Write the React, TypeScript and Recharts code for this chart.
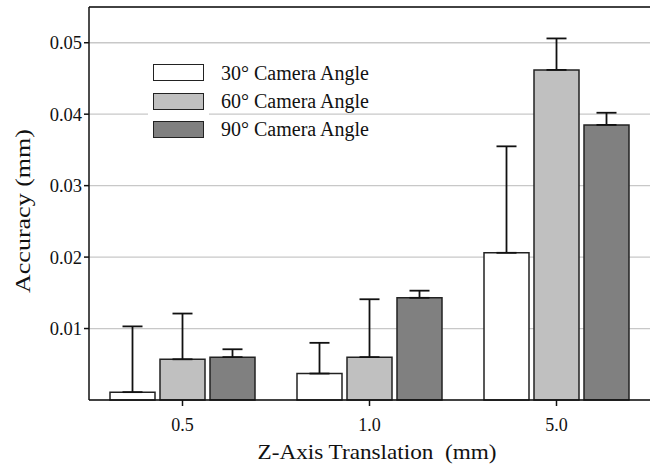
import React from 'react'
import { BarChart, Bar, XAxis, YAxis, CartesianGrid, ErrorBar, ReferenceLine } from 'recharts'

const categories = ['0.5', '1.0', '5.0']
const angle30 = [0.0011, 0.0037, 0.0206]
const angle60 = [0.0057, 0.006, 0.0462]
const angle90 = [0.006, 0.0143, 0.0385]
const err30 = [0.0092, 0.0043, 0.0149]
const err60 = [0.0064, 0.0081, 0.0044]
const err90 = [0.0011, 0.001, 0.0017]
const yTicks = [0.01, 0.02, 0.03, 0.04, 0.05]
const seriesNames = ['30° Camera Angle', '60° Camera Angle', '90° Camera Angle']
const seriesColors = ['#ffffff', '#c0c0c0', '#808080']

const FONT = '"Liberation Serif", "Times New Roman", serif'

const data = categories.map((c, i) => ({
  z: c,
  a30: angle30[i],
  a60: angle60[i],
  a90: angle90[i],
  e30: [0, err30[i]],
  e60: [0, err60[i]],
  e90: [0, err90[i]],
}))

// legend sits inside the plot, over the grid lines
function CustomLegend() {
  return (
    <div style={{ position: 'absolute', left: 148, top: 58.7, fontFamily: FONT, fontSize: 20, color: '#111' }}>
      {seriesNames.map((name, i) => (
        <div key={name} style={{ display: 'flex', alignItems: 'center', height: 28.3 }}>
          <div style={{ background: '#fff', padding: '5.65px 5px', marginRight: 12 }}>
            <div
              style={{
                width: 51,
                height: 17,
                boxSizing: 'border-box',
                background: seriesColors[i],
                border: '1.5px solid #222',
              }}
            />
          </div>
          <span style={{ lineHeight: '28px', whiteSpace: 'nowrap' }}>{name}</span>
        </div>
      ))}
    </div>
  )
}

export default function App() {
  return (
    <div style={{ position: 'absolute', left: 0, top: 0, width: 650, height: 468, background: '#fff' }}>
      <BarChart
        width={650}
        height={468}
        data={data}
        margin={{ top: 7, right: 0, left: 0, bottom: 0 }}
        barSize={45}
        barGap={5}
      >
        <CartesianGrid horizontal vertical={false} stroke="#c8c8c8" strokeWidth={1.3} />
        <XAxis
          dataKey="z"
          height={68}
          tickSize={6}
          tickMargin={12}
          stroke="#111"
          strokeWidth={1.5}
          tick={{ fill: '#111', fontFamily: FONT, fontSize: 18 }}
          label={{
            content: () => (
              <text
                x={377}
                y={459}
                textAnchor="middle"
                fill="#111"
                fontFamily={FONT}
                fontSize={21}
                textLength={239}
                lengthAdjust="spacingAndGlyphs"
                style={{ whiteSpace: 'pre' }}
              >
                Z-Axis Translation  (mm)
              </text>
            ),
          }}
        />
        <YAxis
          width={89}
          domain={[0, 0.055]}
          ticks={yTicks}
          tickSize={5}
          tickMargin={2}
          stroke="#111"
          strokeWidth={1.5}
          tickFormatter={(v: number) => v.toFixed(2)}
          tick={{ fill: '#111', fontFamily: FONT, fontSize: 18.5 }}
          label={{
            content: () => (
              <text
                x={23}
                y={211}
                transform="rotate(-90 23 211)"
                textAnchor="middle"
                dominantBaseline="central"
                fill="#111"
                fontFamily={FONT}
                fontSize={20}
                textLength={164}
                lengthAdjust="spacingAndGlyphs"
              >
                Accuracy (mm)
              </text>
            ),
          }}
        />
        <ReferenceLine y={0.055} stroke="#111" strokeWidth={1.5} />
        <Bar dataKey="a30" name={seriesNames[0]} fill={seriesColors[0]} stroke="#222" strokeWidth={1.5} isAnimationActive={false}>
          <ErrorBar dataKey="e30" direction="y" width={10} stroke="#111" strokeWidth={1.8} isAnimationActive={false} />
        </Bar>
        <Bar dataKey="a60" name={seriesNames[1]} fill={seriesColors[1]} stroke="#222" strokeWidth={1.5} isAnimationActive={false}>
          <ErrorBar dataKey="e60" direction="y" width={10} stroke="#111" strokeWidth={1.8} isAnimationActive={false} />
        </Bar>
        <Bar dataKey="a90" name={seriesNames[2]} fill={seriesColors[2]} stroke="#222" strokeWidth={1.5} isAnimationActive={false}>
          <ErrorBar dataKey="e90" direction="y" width={10} stroke="#111" strokeWidth={1.8} isAnimationActive={false} />
        </Bar>
      </BarChart>
      <CustomLegend />
    </div>
  )
}
